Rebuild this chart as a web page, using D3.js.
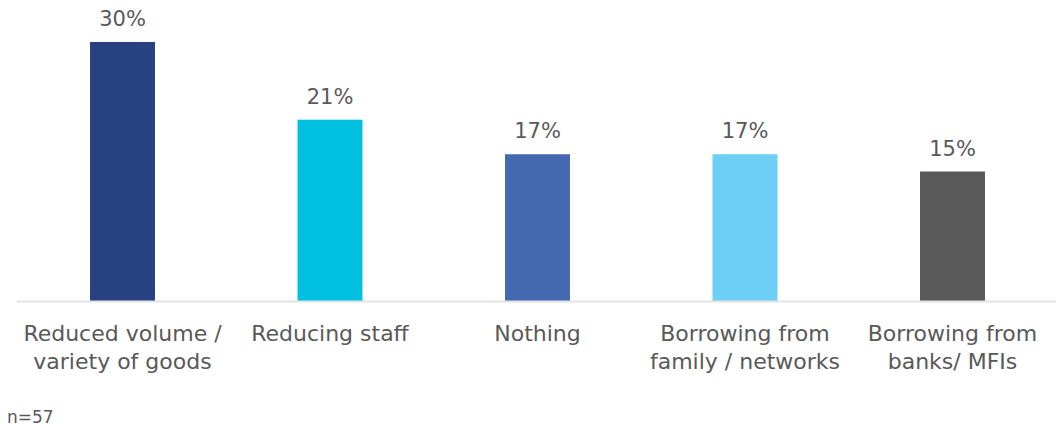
<!DOCTYPE html>
<html>
<head>
<meta charset="utf-8">
<script src="https://cdn.jsdelivr.net/npm/d3@7"></script>
<style>
  html, body { margin: 0; padding: 0; background: #fff; }
  svg { display: block; }
  text { font-family: "DejaVu Sans", sans-serif; fill: #595959; }
</style>
</head>
<body>
<svg id="chart" width="1056" height="426"></svg>
<script>
// Coping strategies and share of respondents
const categories = [
  ["Reduced volume /", "variety of goods"],
  ["Reducing staff"],
  ["Nothing"],
  ["Borrowing from", "family / networks"],
  ["Borrowing from", "banks/ MFIs"]
];
const values = [30, 21, 17, 17, 15];
const colors = ["#284180", "#00C0E0", "#4469B1", "#6DCFF6", "#595959"];
const note = "n=57";

const svg = d3.select("#chart");
const baseY = 301;

const x = d3.scaleBand()
  .domain(d3.range(values.length))
  .range([18.75, 1056.25])
  .paddingInner(0.687)
  .paddingOuter(0.3435);

const y = d3.scaleLinear()
  .domain([0, 30])
  .range([baseY, 42]);

// bars
svg.append("g").selectAll("rect")
  .data(values)
  .join("rect")
  .attr("x", (d, i) => x(i))
  .attr("y", d => y(d))
  .attr("width", x.bandwidth())
  .attr("height", d => y(0) - y(d))
  .attr("fill", (d, i) => colors[i]);

// baseline
svg.append("line")
  .attr("x1", 17).attr("x2", 1056)
  .attr("y1", baseY + 0.5).attr("y2", baseY + 0.5)
  .attr("stroke", "#e3e3e3").attr("stroke-width", 2);

// value labels
svg.append("g").selectAll("text")
  .data(values)
  .join("text")
  .attr("x", (d, i) => x(i) + x.bandwidth() / 2)
  .attr("y", d => y(d) - 16)
  .attr("text-anchor", "middle")
  .style("font-size", "21px")
  .text(d => d + "%");

// category labels
const cat = svg.append("g").selectAll("text")
  .data(categories)
  .join("text")
  .attr("x", (d, i) => x(i) + x.bandwidth() / 2)
  .attr("y", 341)
  .attr("text-anchor", "middle")
  .style("font-size", "22px");
cat.selectAll("tspan")
  .data(d => d)
  .join("tspan")
  .attr("x", function () { return d3.select(this.parentNode).attr("x"); })
  .attr("dy", (d, j) => j === 0 ? 0 : 28)
  .text(d => d);

// sample size note
svg.append("text")
  .attr("x", 7)
  .attr("y", 423)
  .style("font-size", "17px")
  .text(note);
</script>
</body>
</html>
